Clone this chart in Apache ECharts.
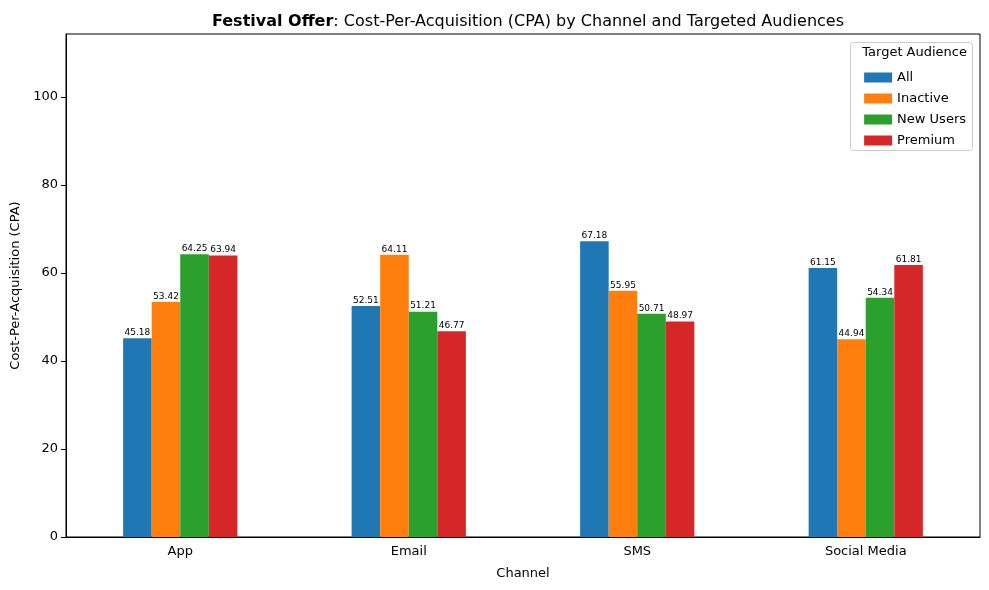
<!DOCTYPE html>
<html lang="en">
<head>
<meta charset="UTF-8" />
<script src="https://cdn.jsdelivr.net/npm/echarts@6/dist/echarts.min.js"></script>
<title>CPA</title>
</head>
<body style="margin:0">
<div id="main" style="width:989px;height:590px"></div>
<script type="text/javascript">
const channels = ['App', 'Email', 'SMS', 'Social Media'];
const audiences = ['All', 'Inactive', 'New Users', 'Premium'];
const allVals = [45.18, 52.51, 67.18, 61.15];
const inactiveVals = [53.42, 64.11, 55.95, 44.94];
const newUserVals = [64.25, 51.21, 50.71, 54.34];
const premiumVals = [63.94, 46.77, 48.97, 61.81];
const colors = ['#1f77b4', '#ff7f0e', '#2ca02c', '#d62728'];

const chart = echarts.init(document.getElementById('main'));
const font = 'DejaVu Sans';
const series = [allVals, inactiveVals, newUserVals, premiumVals].map((d, i) => ({
	name: audiences[i],
	type: 'bar',
	data: d,
	barGap: '0%',
	barCategoryGap: '50%',
	itemStyle: { color: colors[i] },
	label: {
		show: true,
		position: 'top',
		distance: 1,
		fontSize: 9,
		color: '#000',
		fontFamily: font,
		formatter: p => p.value.toFixed(2),
	},
}));

chart.setOption({
	animation: false,
	textStyle: { fontFamily: font },
	title: {
		text: '{b|Festival Offer}: Cost-Per-Acquisition (CPA) by Channel and Targeted Audiences',
		left: 523,
		textAlign: 'center',
		top: 9,
		textStyle: {
			fontSize: 16,
			fontWeight: 'normal',
			color: '#000',
			fontFamily: font,
			rich: { b: { fontSize: 16, fontWeight: 'bold', fontFamily: font, color: '#000' } },
		},
	},
	grid: {
		left: 66, right: 9, top: 34, bottom: 53,
		show: true, borderColor: '#000', borderWidth: 1,
	},
	legend: {
		data: audiences,
		orient: 'vertical',
		right: 18,
		top: 66,
		itemWidth: 28,
		itemHeight: 10,
		itemGap: 8,
		icon: 'rect',
		textStyle: { fontSize: 13, color: '#000', fontFamily: font },
	},
	graphic: [
		{
			type: 'rect',
			right: 16, top: 42,
			shape: { width: 122, height: 108, r: 3 },
			style: { fill: '#fff', stroke: '#ccc', lineWidth: 1 },
			z: 0,
		},
		{
			type: 'text',
			right: 22, top: 46,
			style: { text: 'Target Audience', fontSize: 13, fill: '#000', fontFamily: font },
		},
	],
	xAxis: {
		type: 'category',
		data: channels,
		name: 'Channel',
		nameLocation: 'middle',
		nameGap: 30,
		nameTextStyle: { fontSize: 13, color: '#000' },
		axisLine: { lineStyle: { color: '#000' } },
		axisTick: { alignWithLabel: true, lineStyle: { color: '#000' } },
		axisLabel: { fontSize: 13, color: '#000' },
	},
	yAxis: {
		type: 'value',
		min: 0,
		max: 114.3,
		interval: 20,
		name: 'Cost-Per-Acquisition (CPA)',
		nameLocation: 'middle',
		nameGap: 42,
		nameTextStyle: { fontSize: 13, color: '#000' },
		axisLine: { show: true, lineStyle: { color: '#000' } },
		axisTick: { show: true, lineStyle: { color: '#000' } },
		axisLabel: { fontSize: 13, color: '#000', showMaxLabel: false },
		splitLine: { show: false },
	},
	series,
});
</script>
</body>
</html>
